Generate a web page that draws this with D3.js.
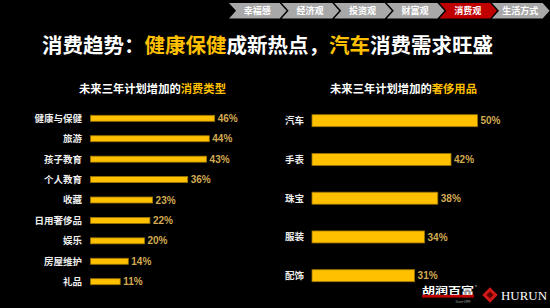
<!DOCTYPE html>
<html>
<head>
<meta charset="utf-8">
<script src="https://cdn.jsdelivr.net/npm/d3@7"></script>
<style>
  html, body { margin: 0; padding: 0; background: #000; }
  svg { display: block; font-family: "Noto Sans CJK SC", "Noto Sans", sans-serif; }
</style>
</head>
<body>
<script>
// data
var typeCats = ['健康与保健', '旅游', '孩子教育', '个人教育', '收藏', '日用奢侈品', '娱乐', '房屋维护', '礼品'];
var typeVals = [46, 44, 43, 36, 23, 22, 20, 14, 11];
var luxCats = ['汽车', '手表', '珠宝', '服装', '配饰'];
var luxVals = [50, 42, 38, 34, 31];
var navTabs = ['幸福感', '经济观', '投资观', '财富观', '消费观', '生活方式'];
var activeTab = '消费观';

var W = 550, H = 308;
var yellow = '#ffc000', gold = '#d2aa52';

var svg = d3.select('body').append('svg').attr('width', W).attr('height', H);
svg.append('rect').attr('width', W).attr('height', H).attr('fill', '#000');

// nav chevrons
var tabW = 52.6, tabH = 15.5, tip = 7, navX = 229, navY = 3;
var nav = svg.append('g');
navTabs.forEach(function (t, i) {
  var x = navX + i * tabW;
  var pts = [[x, navY], [x + tabW - 2, navY], [x + tabW - 2 + tip, navY + tabH / 2],
             [x + tabW - 2, navY + tabH], [x, navY + tabH], [x + tip, navY + tabH / 2]];
  nav.append('polygon').attr('points', pts.map(function (p) { return p.join(','); }).join(' '))
     .attr('fill', t === activeTab ? '#c00000' : '#a8a8a8');
  nav.append('text').attr('x', x + tabW / 2 + 2).attr('y', navY + tabH / 2 + 3.2)
     .attr('text-anchor', 'middle').attr('font-size', 9).attr('font-weight', 'bold')
     .attr('fill', '#fff').text(t);
});

// main title
var title = svg.append('text').attr('x', 42).attr('y', 52.5)
  .attr('font-size', 20.5).attr('font-weight', 'bold').attr('fill', '#fff');
title.append('tspan').text('消费趋势：');
title.append('tspan').attr('fill', yellow).text('健康保健');
title.append('tspan').text('成新热点，');
title.append('tspan').attr('fill', yellow).text('汽车');
title.append('tspan').text('消费需求旺盛');

function subTitle(cx, hi) {
  var t = svg.append('text').attr('x', cx).attr('y', 93).attr('text-anchor', 'middle')
    .attr('font-size', 11.3).attr('font-weight', 'bold').attr('fill', '#fff');
  t.append('tspan').text('未来三年计划增加的');
  t.append('tspan').attr('fill', yellow).text(hi);
}
subTitle(152.5, '消费类型');
subTitle(403.5, '奢侈用品');

function barChart(cats, vals, x, y, barH, labelX) {
  var g = svg.append('g');
  var rows = g.selectAll('g').data(cats).enter().append('g');
  rows.append('rect')
    .attr('x', x(0))
    .attr('y', function (d) { return y(d) - barH / 2; })
    .attr('width', function (d, i) { return x(vals[i]) - x(0); })
    .attr('height', barH)
    .attr('fill', yellow).attr('stroke', '#9a7400').attr('stroke-width', 0.8);
  rows.append('text')
    .attr('x', labelX).attr('y', function (d) { return y(d) + 3.4; })
    .attr('text-anchor', 'end').attr('font-size', 9.5).attr('font-weight', 'bold')
    .attr('fill', '#eee').text(function (d) { return d; });
  rows.append('text')
    .attr('x', function (d, i) { return x(vals[i]) + 3; })
    .attr('y', function (d) { return y(d) + 3.6; })
    .attr('font-size', 10).attr('font-weight', 'bold')
    .attr('font-family', 'Arial, "Liberation Sans", sans-serif')
    .attr('fill', gold).text(function (d, i) { return vals[i] + '%'; });
}

var xL = d3.scaleLinear().domain([0, 50]).range([90.5, 225.5]);
var yL = d3.scalePoint().domain(typeCats).range([118.3, 281.7]);
barChart(typeCats, typeVals, xL, yL, 6, 82);

var xR = d3.scaleLinear().domain([0, 50]).range([312, 477.5]);
var yR = d3.scalePoint().domain(luxCats).range([120.7, 275.7]);
barChart(luxCats, luxVals, xR, yR, 12, 304);

// logo
var logo = svg.append('g');
logo.append('text').attr('x', 422).attr('y', 293.5).attr('font-size', 9.5).attr('font-weight', 'bold')
  .attr('fill', '#fff').attr('textLength', 52).attr('lengthAdjust', 'spacingAndGlyphs').text('胡润百富');
logo.append('text').attr('x', 475).attr('y', 288).attr('font-size', 3.5).attr('fill', '#ccc').text('®');
logo.append('rect').attr('x', 422).attr('y', 294.8).attr('width', 52).attr('height', 2.8).attr('fill', '#c00000');
logo.append('text').attr('x', 463).attr('y', 302.5).attr('font-size', 3).attr('text-anchor', 'middle')
  .attr('fill', '#aaa').text('Since 1999');
logo.append('rect').attr('x', 484.5).attr('y', 289.5).attr('width', 11).attr('height', 11)
  .attr('transform', 'rotate(45 490 295)').attr('fill', '#d01818');
logo.append('rect').attr('x', 487.5).attr('y', 292.5).attr('width', 5).attr('height', 5)
  .attr('transform', 'rotate(45 490 295)').attr('fill', '#5a0000');
logo.append('text').attr('x', 501).attr('y', 299.5).attr('font-size', 12)
  .attr('font-family', '"Liberation Serif", "DejaVu Serif", serif').attr('fill', '#fff')
  .attr('textLength', 46).attr('lengthAdjust', 'spacingAndGlyphs').text('HURUN');
</script>
</body>
</html>
